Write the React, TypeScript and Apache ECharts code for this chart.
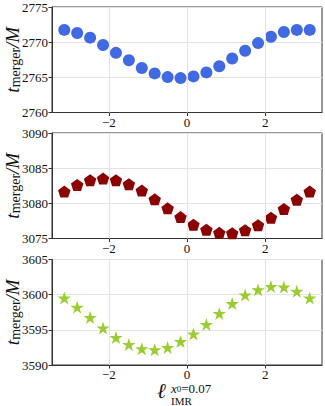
import React, { useEffect, useRef } from "react";
import * as echarts from "echarts";

const xValues = [
  -3.1416, -2.8109, -2.4802, -2.1495, -1.8188, -1.4881, -1.1574, -0.8267, -0.496, -0.1653,
  0.1653, 0.496, 0.8267, 1.1574, 1.4881, 1.8188, 2.1495, 2.4802, 2.8109, 3.1416,
];
const topValues = [
  2771.74, 2771.31, 2770.64, 2769.59, 2768.48, 2767.43, 2766.33, 2765.56, 2765.03, 2764.89,
  2765.13, 2765.7, 2766.57, 2767.67, 2768.77, 2769.87, 2770.78, 2771.45, 2771.74, 2771.74,
];
const midValues = [
  3081.67, 3082.62, 3083.29, 3083.52, 3083.29, 3082.71, 3081.81, 3080.57, 3079.29, 3078.05,
  3076.95, 3076.24, 3075.81, 3075.76, 3076.19, 3076.9, 3077.95, 3079.19, 3080.52, 3081.67,
];
const botValues = [
  3599.53, 3598.22, 3596.76, 3595.26, 3593.9, 3592.91, 3592.3, 3592.16, 3592.49, 3593.33,
  3594.41, 3595.77, 3597.32, 3598.73, 3599.95, 3600.7, 3601.17, 3601.08, 3600.47, 3599.53,
];
const xTicks = [-2, 0, 2];
const yRanges = [
  [2760, 2775],
  [3075, 3090],
  [3590, 3605],
];

const FONT = '"Liberation Serif", "DejaVu Serif", serif';
const PENTAGON =
  "path://M0,-1 L0.951,-0.309 L0.588,0.809 L-0.588,0.809 L-0.951,-0.309 Z";
const STAR =
  "path://M0,-1 L0.2245,-0.309 L0.951,-0.309 L0.3633,0.118 L0.5878,0.809 L0,0.382 L-0.5878,0.809 L-0.3633,0.118 L-0.951,-0.309 L-0.2245,-0.309 Z";
const GRID_COLOR = "#e3e3e3";
const AXIS_COLOR = "#333";

export default function App() {
  const ref = useRef<HTMLDivElement>(null);
  useEffect(() => {
    if (!ref.current) return;
    const chart = echarts.init(ref.current, null, { renderer: "svg" });
    const tops = [7, 133, 259.5];
    const grids = tops.map((t) => ({
      left: 52,
      right: 3,
      top: t,
      height: 105.5,
      containLabel: false,
      outerBoundsMode: "none",
      show: true,
      borderColor: AXIS_COLOR,
      borderWidth: 1,
      backgroundColor: "transparent",
    }));
    const xAxes = tops.map((_, i) => ({
      type: "value",
      gridIndex: i,
      min: -3.456,
      max: 3.456,
      axisLine: { show: true, onZero: false, lineStyle: { color: AXIS_COLOR, width: 1 } },
      axisTick: {
        show: true,
        customValues: xTicks,
        length: 3.5,
        lineStyle: { color: AXIS_COLOR },
      },
      axisLabel: {
        customValues: xTicks,
        margin: 3,
        fontFamily: FONT,
        fontSize: 13,
        color: "#111",
        formatter: (v: number) => String(v).replace("-", "\u2212"),
      },
      splitLine: { show: false },
    }));
    const yAxes = yRanges.map((r, i) => ({
      type: "value",
      gridIndex: i,
      min: r[0],
      max: r[1],
      interval: 5,
      axisLine: { show: true, onZero: false, lineStyle: { color: AXIS_COLOR, width: 1 } },
      axisTick: { show: true, length: 3.5, lineStyle: { color: AXIS_COLOR } },
      axisLabel: {
        margin: 4,
        fontFamily: FONT,
        fontSize: 13,
        color: "#111",
        formatter: (v: number) => String(v),
      },
      splitLine: { show: true, lineStyle: { color: GRID_COLOR, width: 1 } },
      name: "{t|t}{s|merger}{m|/M}",
      nameLocation: "middle",
      nameRotate: 90,
      nameGap: 30,
      nameMoveOverlap: false,
      nameTextStyle: {
        rich: {
          t: {
            fontFamily: FONT,
            fontStyle: "italic",
            fontSize: 19,
            lineHeight: 19,
            verticalAlign: "top",
            color: "#111",
          },
          s: {
            fontFamily: FONT,
            fontSize: 14,
            lineHeight: 14,
            padding: [6, 0, 0, 0],
            verticalAlign: "bottom",
            color: "#111",
          },
          m: {
            fontFamily: FONT,
            fontStyle: "italic",
            fontSize: 19,
            lineHeight: 19,
            verticalAlign: "top",
            color: "#111",
          },
        },
      },
    }));
    const mk = (i: number, vals: number[], symbol: string, size: any, color: string) => ({
      type: "scatter",
      xAxisIndex: i,
      yAxisIndex: i,
      symbol,
      symbolSize: size,
      itemStyle: { color, opacity: 1 },
      data: xValues.map((x, k) => [x, vals[k]]),
      markLine: {
        silent: true,
        symbol: ["none", "none"],
        label: { show: false },
        lineStyle: { color: GRID_COLOR, width: 1, type: "solid" },
        data: xTicks.map((v) => ({ xAxis: v })),
      },
    });
    chart.setOption({
      animation: false,
      backgroundColor: "#fff",
      grid: grids,
      xAxis: xAxes,
      yAxis: yAxes,
      series: [
        mk(0, topValues, "circle", 12, "#4169e1"),
        mk(1, midValues, PENTAGON, [12.5, 12], "#8b0000"),
        mk(2, botValues, STAR, [13.5, 13], "#9acd32"),
      ],
      graphic: [
        {
          type: "text",
          x: 157,
          y: 391,
          style: {
            text: "\u2113",
            fontFamily: '"DejaVu Serif", serif',
            fontStyle: "italic",
            fontSize: 21,
            verticalAlign: "middle",
            fill: "#111",
          },
        },
        {
          type: "text",
          x: 171,
          y: 388,
          style: {
            text: "{x|x}{s|0}{n|=0.07}",
            verticalAlign: "middle",
            rich: {
              x: { fontFamily: FONT, fontStyle: "italic", fontSize: 13, lineHeight: 11, fill: "#111" },
              s: { fontFamily: FONT, fontSize: 9, lineHeight: 8, verticalAlign: "bottom", fill: "#111" },
              n: { fontFamily: FONT, fontSize: 13, lineHeight: 11, fill: "#111" },
            },
          },
        },
        {
          type: "text",
          x: 171,
          y: 401,
          style: {
            text: "IMR",
            fontFamily: FONT,
            fontSize: 11,
            verticalAlign: "middle",
            fill: "#111",
          },
        },
      ],
    });
    return () => chart.dispose();
  }, []);
  return (
    <div
      ref={ref}
      style={{ position: "fixed", left: 0, top: 0, width: 325, height: 406, background: "#fff" }}
    />
  );
}
